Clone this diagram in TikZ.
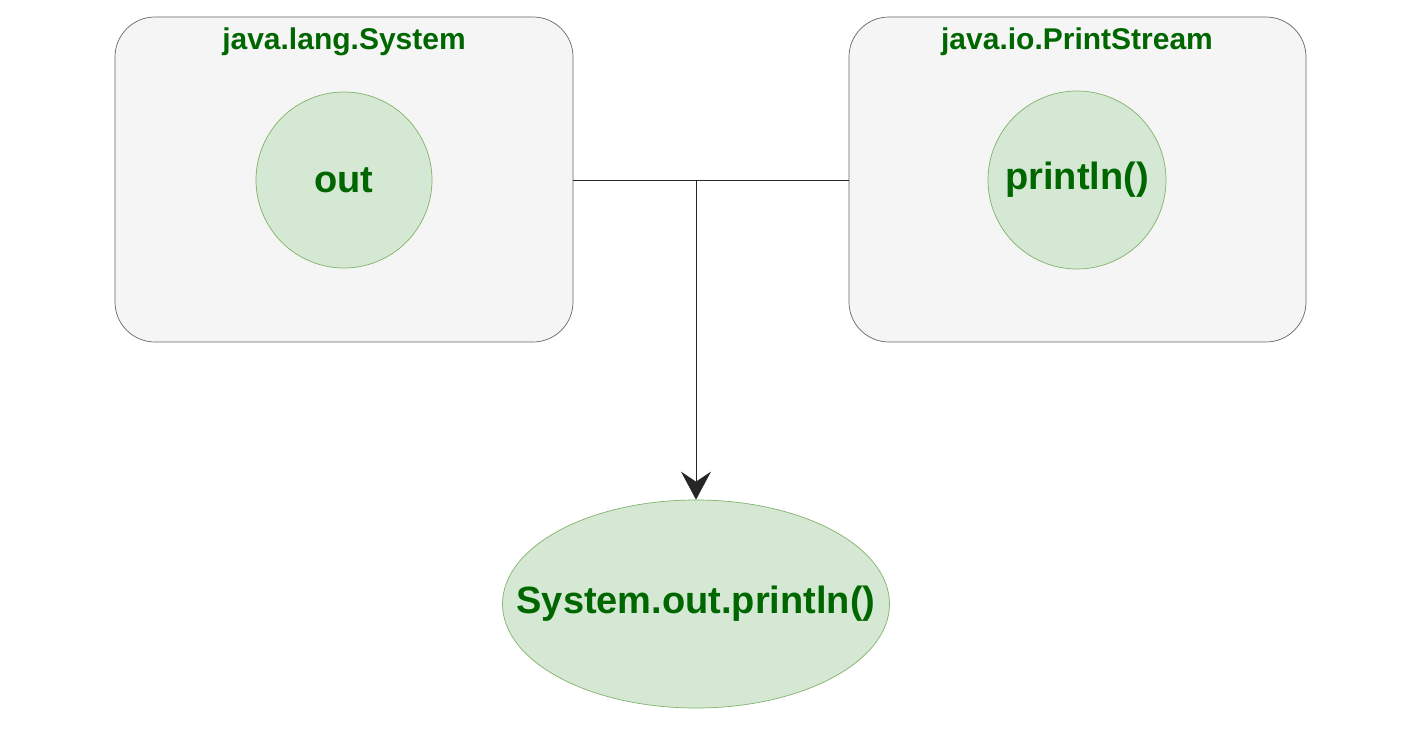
\documentclass[tikz,border=0pt]{standalone}
\usepackage{fontspec}
\setmainfont{Liberation Sans}
\usetikzlibrary{arrows.meta,shapes.geometric}
\definecolor{boxfill}{HTML}{F5F5F5}
\definecolor{boxline}{HTML}{666666}
\definecolor{gfill}{HTML}{D5E8D4}
\definecolor{gline}{HTML}{82B366}
\definecolor{gtext}{HTML}{006600}
\begin{document}
\begin{tikzpicture}[x=1pt,y=-1pt,
  container/.style={draw=boxline,fill=boxfill,rounded corners=40pt,line width=0.7pt},
  bigtext/.style={text=gtext,font=\fontsize{38}{44}\selectfont\bfseries},
  member/.style={circle,draw=gline,fill=gfill,line width=0.7pt,minimum size=176pt,inner sep=0pt,bigtext},
  result/.style={ellipse,draw=gline,fill=gfill,line width=0.7pt,minimum width=387pt,minimum height=208pt,inner sep=0pt},
  title/.style={text=gtext,font=\fontsize{30}{34}\selectfont\bfseries,inner sep=0pt},
  link/.style={draw=black!85,line width=1pt}
]
\useasboundingbox (0,0) rectangle (1417,752);
\fill[white] (0,0) rectangle (1417,752);
% containers
\draw[container] (115,17) rectangle (573,342);
\draw[container] (849,17) rectangle (1306,342);
\coordinate (sysR) at (573,180);
\coordinate (psL) at (849,180);
\coordinate (junc) at (696,180);
\node[title] (t1) at (344,42) {java.lang.System};
\node[title] (t2) at (1077,42) {java.io.PrintStream};
\node[member] (out) at (344,180) {out};
\node[member,minimum size=178pt] (println) at (1077,180) {println()};
\node[result] (res) at (696,604) {};
\node[bigtext,inner sep=0pt] (restext) at (res.center) {System.out.println()};
% connectors
\draw[link] (sysR) -- (psL);
\draw[link,-{Stealth[length=28pt,width=30pt,inset=10pt]}] (junc) -- (res.north);
\end{tikzpicture}
\end{document}
